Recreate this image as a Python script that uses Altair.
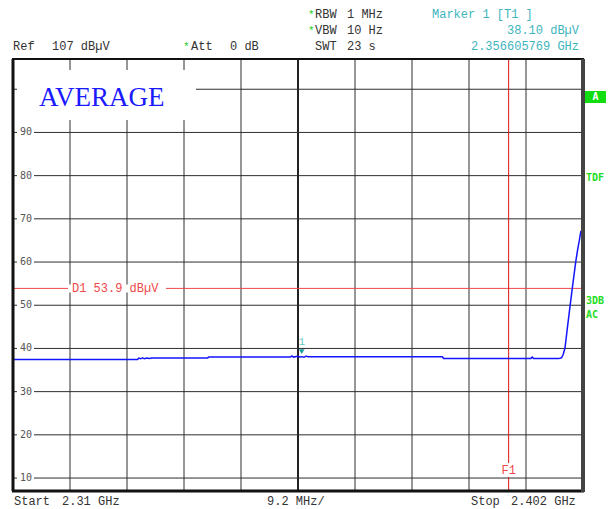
import altair as alt
import pandas as pd

# ---- data ----
freq_mhz = [2310.0, 2330.1, 2330.3, 2330.6, 2330.9, 2331.2, 2331.6, 2332.0, 2332.4,
            2341.4, 2341.6, 2354.8, 2355.0, 2355.3, 2355.9, 2356.3, 2356.6, 2357.0,
            2357.3, 2357.6, 2379.3, 2379.5, 2393.6, 2393.8, 2394.0, 2398.0, 2398.3,
            2398.55, 2398.8, 2399.09, 2399.5, 2399.9, 2400.27, 2400.82, 2401.15,
            2401.41, 2401.55, 2401.67]
level_dbuv = [37.45, 37.45, 37.75, 37.6, 37.8, 37.6, 37.8, 37.65, 37.8,
              37.8, 38.0, 38.0, 38.25, 38.0, 38.2, 38.0, 38.1, 37.95,
              38.25, 38.05, 38.08, 37.7, 37.7, 38.0, 37.7, 37.7, 37.72,
              37.85, 38.6, 40.1, 45.0, 49.7, 53.9, 60.0, 63.0,
              65.0, 66.3, 67.2]

grid_freqs = [2319.2, 2328.4, 2337.6, 2346.8, 2365.2, 2374.4, 2383.6, 2392.8]
center_freq = [2356.0]
grid_levels = [10, 20, 30, 40, 50, 60, 70, 80, 90, 100]
label_levels = [10, 20, 30, 40, 50, 60, 70, 80, 90]
display_line = [53.9]
f1_freq = [2390.0]
marker_freq = [2356.6]
marker_level = [38.1]

F_MIN, F_MAX = 2310.0, 2402.0
REF, BOTTOM = 107.0, 7.0

W, H = 570, 432
MONO = "Liberation Mono"

xs = alt.Scale(domain=[F_MIN, F_MAX], nice=False, zero=False)
ys = alt.Scale(domain=[BOTTOM, REF], nice=False, zero=False)

trace_df = pd.DataFrame({"f": freq_mhz, "v": level_dbuv})
vgrid_df = pd.DataFrame({"f": grid_freqs})
cgrid_df = pd.DataFrame({"f": center_freq})
hgrid_df = pd.DataFrame({"v": grid_levels})
lab_df = pd.DataFrame({"v": label_levels, "t": [str(v) for v in label_levels]})
d1_df = pd.DataFrame({"v": display_line})
f1_df = pd.DataFrame({"f": f1_freq})
mk_df = pd.DataFrame({"f": marker_freq, "v": marker_level})
one = pd.DataFrame({"k": [0]})

X = lambda: alt.X("f:Q", scale=xs, axis=None)
Y = lambda: alt.Y("v:Q", scale=ys, axis=None)

GRID = "#2e2e2e"
layers = []

# vertical grid
layers.append(alt.Chart(vgrid_df).mark_rule(color=GRID, strokeWidth=1).encode(x=X()))
layers.append(alt.Chart(cgrid_df).mark_rule(color="#222222", strokeWidth=2).encode(x=X()))
# horizontal grid
layers.append(alt.Chart(hgrid_df).mark_rule(color=GRID, strokeWidth=1).encode(
    y=Y(), x=alt.value(21), x2=alt.value(W)))
# tick stubs
layers.append(alt.Chart(hgrid_df).mark_rule(color=GRID, strokeWidth=1).encode(
    y=Y(), x=alt.value(0), x2=alt.value(4)))
# y labels
layers.append(alt.Chart(lab_df).mark_text(font="DejaVu Sans Mono", fontSize=10, color="#555555",
                                          align="center", baseline="middle").encode(
    y=Y(), x=alt.value(13), text="t:N"))

# D1 display line
layers.append(alt.Chart(d1_df).mark_rule(color="#f04848", strokeWidth=1).encode(y=Y()))
layers.append(alt.Chart(d1_df).mark_rule(color="white", strokeWidth=8).encode(
    y=Y(), x=alt.value(55), x2=alt.value(153)))
layers.append(alt.Chart(d1_df).mark_text(font=MONO, fontSize=12, color="#f04848",
                                         align="left", baseline="middle").encode(
    y=Y(), x=alt.value(59), text=alt.value("D1 53.9 dBµV")))

# F1 line
layers.append(alt.Chart(f1_df).mark_rule(color="#e01010", strokeWidth=1).encode(x=X()))
layers.append(alt.Chart(f1_df).mark_rule(color="white", strokeWidth=6).encode(
    x=X(), y=alt.value(404), y2=alt.value(418)))
layers.append(alt.Chart(f1_df).mark_text(font=MONO, fontSize=12, color="#f04848",
                                         align="center", baseline="middle").encode(
    x=X(), y=alt.value(411), text=alt.value("F1")))

# AVERAGE box
layers.append(alt.Chart(one).mark_rect(color="white").encode(
    x=alt.value(5), x2=alt.value(183), y=alt.value(11), y2=alt.value(61)))
layers.append(alt.Chart(one).mark_text(font="Liberation Serif", fontSize=27, color="#1a1aff",
                                       align="left", baseline="alphabetic").encode(
    x=alt.value(26), y=alt.value(47), text=alt.value("AVERAGE")))

# trace
layers.append(alt.Chart(trace_df).mark_line(color="#1414ff", strokeWidth=1.5,
                                            interpolate="linear").encode(x=X(), y=Y()))

# marker
layers.append(alt.Chart(mk_df).mark_point(shape="triangle-down", filled=True, size=32,
                                          color="#1a9e9e", opacity=1, yOffset=-5).encode(x=X(), y=Y()))
layers.append(alt.Chart(mk_df).mark_text(font=MONO, fontSize=11, color="#66c8c8",
                                         align="center", baseline="middle", dy=-15).encode(
    x=X(), y=Y(), text=alt.value("1")))

# frame
layers.append(alt.Chart(one).mark_rule(color="#111111", strokeWidth=3).encode(
    x=alt.value(0), y=alt.value(0), y2=alt.value(H)))
layers.append(alt.Chart(one).mark_rule(color="#111111", strokeWidth=3).encode(
    y=alt.value(H), x=alt.value(-1), x2=alt.value(W + 1)))
layers.append(alt.Chart(one).mark_rule(color="#111111", strokeWidth=2).encode(
    y=alt.value(0), x=alt.value(-1), x2=alt.value(W + 1)))
layers.append(alt.Chart(one).mark_rule(color="#444444", strokeWidth=4).encode(
    x=alt.value(W), y=alt.value(0), y2=alt.value(H + 1)))


def txt(s, px, py, color="#333333", size=12, align="left", weight="normal", font=MONO):
    return alt.Chart(one).mark_text(font=font, fontSize=size, color=color, align=align,
                                    baseline="middle", fontWeight=weight).encode(
        x=alt.value(px - 13), y=alt.value(py - 59), text=alt.value(s))


GREEN = "#22cc22"
CYAN = "#3db5bd"
# header
layers += [
    txt("*", 308, 15, GREEN, 11), txt("RBW", 315, 14), txt("1 MHz", 347, 14),
    txt("Marker 1 [T1 ]", 432, 14, CYAN),
    txt("*", 308, 31, GREEN, 11), txt("VBW", 315, 30), txt("10 Hz", 347, 30),
    txt("38.10 dBµV", 579, 30, CYAN, align="right"),
    txt("Ref", 13, 46), txt("107 dBµV", 52, 46),
    txt("*", 183, 47, GREEN, 11), txt("Att", 191, 46), txt("0 dB", 230, 46),
    txt("SWT", 315, 46), txt("23 s", 347, 46),
    txt("2.356605769 GHz", 579, 46, CYAN, align="right"),
    # footer
    txt("Start", 14, 501), txt("2.31 GHz", 62, 501),
    txt("9.2 MHz/", 267, 501),
    txt("Stop", 471, 501), txt("2.402 GHz", 511, 501),
]

# right side status
layers.append(alt.Chart(one).mark_rect(color="#11dd11").encode(
    x=alt.value(572), x2=alt.value(593), y=alt.value(32), y2=alt.value(44)))
layers += [
    txt("A", 595.5, 97, "white", 10, "center", "bold", "DejaVu Sans Mono"),
    txt("TDF", 586, 178, "#22dd22", 10, "left", "bold", "DejaVu Sans Mono"),
    txt("3DB", 586, 301, "#22dd22", 10, "left", "bold", "DejaVu Sans Mono"),
    txt("AC", 586, 315, "#22dd22", 10, "left", "bold", "DejaVu Sans Mono"),
]

chart = alt.layer(*layers).properties(
    width=W, height=H,
    autosize=alt.AutoSizeParams(type="none"),
    padding={"left": 5, "top": 51, "right": 24, "bottom": 18},
    background="white",
).configure_view(stroke=None)

chart.save("out.html", embed_options={"renderer": "svg", "actions": False})
